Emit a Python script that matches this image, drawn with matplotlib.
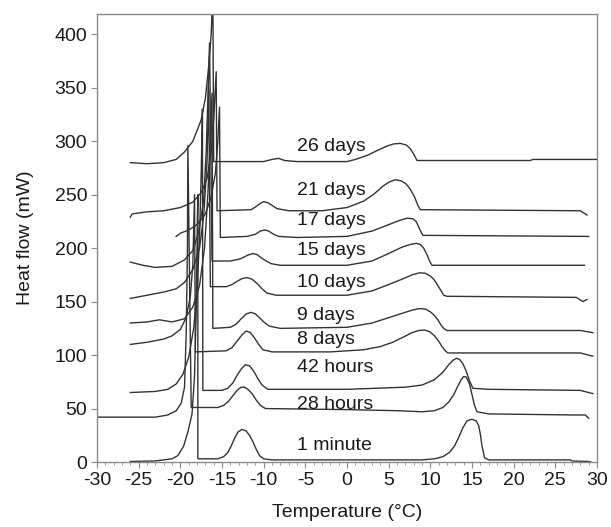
import matplotlib
matplotlib.use("Agg")
import matplotlib.pyplot as plt
from matplotlib.ticker import MultipleLocator

plt.rcParams["font.family"] = ["Liberation Sans", "DejaVu Sans"]
plt.rcParams["axes.unicode_minus"] = False

# keypoints: temperature (degC) and heat flow (mW)
t_1min = [-26, -23, -21, -20.3, -19.6, -19.1, -18.6, -18.3, -18.1, -17.95, -17.9,
          -17.9, -15.5, -14.8, -14.3, -13.9, -13.5, -13.1, -12.6, -12.1, -11.7, -11.3,
          -10.9, -10.5, -10, -9, 0, 9, 10.5, 11.5, 12.3, 12.9, 13.4, 13.9, 14.4, 15,
          15.5, 15.8, 16.0, 16.2, 16.5, 17, 26.8, 27, 29, 29.6]
q_1min = [0.5, 1, 3, 6, 15, 28, 45, 80, 140, 230, 250,
          3, 3, 5, 9, 15, 22, 28, 30.5, 29, 25, 19,
          12, 6, 3, 2, 2, 2, 3, 5, 9, 15, 23, 32, 38.5, 40,
          38.5, 34, 26, 15, 4, 2, 2, 1, 0.5, -1]

t_28h = [-30, -23, -21.5, -20.5, -19.9, -19.5, -19.3, -19.15, -19.1,
         -18.7, -15.5, -14.8, -14.2, -13.7, -13.2, -12.7, -12.3, -11.9, -11.4,
         -10.9, -10.4, -9.8, 0, 6, 9, 10.5, 11.5, 12.2, 12.8, 13.3, 13.7, 14.0,
         14.3, 14.7, 15.0, 15.3, 15.6, 17, 27, 28.6, 29]
q_28h = [42, 42, 44, 48, 55, 70, 120, 200, 296,
         51, 51, 53, 57, 62, 67, 70, 70, 68, 64,
         58, 53, 50, 49, 48, 47, 48, 51, 56, 63, 71, 77, 80,
         79.5, 73, 63, 53, 47, 45, 44, 44, 41]

t_42h = [-26, -23, -21.5, -20.5, -19.7, -19, -18.4, -18, -17.7, -17.5, -17.35,
         -17.3, -15, -14.3, -13.7, -13.2, -12.7, -12.2, -11.7, -11.2, -10.7,
         -10.2, -9.5, 0, 7, 9, 10.5, 11.5, 12.2, 12.7, 13.1, 13.5, 13.9, 14.3,
         14.7, 15.1, 17, 28, 29.5]
q_42h = [65, 66, 68, 73, 82, 98, 125, 160, 210, 270, 330,
         67, 67, 69, 74, 81, 87, 91, 90, 85, 78,
         72, 68, 68, 70, 72, 77, 84, 91, 95, 97, 96, 92, 85,
         76, 69, 68, 67, 64]

t_8d = [-26, -24, -22, -21, -20, -19.3, -18.8, -18.5, -18.3,
        -18.2, -14.5, -13.8, -13.2, -12.6, -12.1, -11.6, -11.1, -10.6, -10.1, -9,
        -2, 2, 4, 5.5, 6.8, 7.8, 8.6, 9.3, 9.9, 10.5, 11.0, 11.4, 11.8, 12.1, 28, 29.5]
q_8d = [110, 112, 115, 118, 124, 135, 155, 185, 250,
        103, 104, 107, 113, 119, 122.5, 121, 116, 110, 105, 103,
        103, 105, 108, 112, 117, 121, 123, 123.5, 122, 118, 113, 108, 104, 102, 102, 99]

t_9d = [-26, -24, -22.5, -21, -19.5, -18.5, -17.7, -17.1, -16.7, -16.4, -16.2,
        -16.1, -14, -13.3, -12.7, -12.1, -11.5, -11.0, -10.5, -10.0, -9.3, -8,
        0, 3, 5, 6.6, 7.8, 8.7, 9.4, 10.0, 10.5, 10.9, 11.3, 11.6, 12, 28, 29.5]
q_9d = [130, 131, 133, 131, 134, 145, 165, 200, 250, 300, 345,
        125, 126, 129, 134, 138.5, 140, 138.5, 135, 131, 127, 125,
        126, 130, 135, 139, 142, 143.5, 143, 140.5, 137, 133, 128, 125, 123, 123, 121]

t_10d = [-26, -24, -22, -20.5, -19.5, -18.5, -17.7, -17.2, -16.8, -16.6,
         -16.4, -14.5, -13.8, -13.2, -12.6, -12.0, -11.4, -10.8, -10.2, -9.6, -8.5,
         0, 3, 5, 6.6, 7.8, 8.7, 9.4, 10.0, 10.5, 10.9, 11.3, 11.6, 12, 27.5, 28.3, 28.8]
q_10d = [153, 156, 159, 162, 168, 180, 200, 230, 280, 350,
         164, 164, 166, 169, 171.5, 172.5, 171, 167, 162, 158, 156,
         156, 160, 166, 171, 175, 177, 176.5, 174, 170, 165, 160, 156, 155, 154, 150, 152]

t_15d = [-26, -24.5, -23, -21, -19.5, -18.5, -17.8, -17.2, -16.9, -16.7, -16.5,
         -16.2, -14, -12.8, -11.9, -11.3, -10.8, -10.3, -9.7, -9.1, -8,
         0, 3, 5, 6.6, 7.6, 8.3, 8.8, 9.2, 9.6, 9.9, 10.2, 28.5]
q_15d = [187, 184, 182, 183, 189, 198, 215, 245, 290, 340, 392,
         188, 188, 190, 193.5, 195, 194, 191, 188, 185.5, 184,
         184, 188, 195, 201, 203.5, 204.5, 203.5, 200, 194, 188, 184, 184]

t_17d = [-20.5, -20, -19, -18, -17, -16.3, -15.8, -15.5, -15.3,
         -15.2, -12, -11, -10.4, -9.9, -9.4, -8.8, -8.2, -6,
         0, 3, 5, 6.3, 7.2, 7.9, 8.3, 8.7, 9.1, 29]
q_17d = [211, 214, 217, 222, 232, 248, 270, 300, 332,
         210, 211, 213, 216, 217, 216, 213, 211, 210,
         211, 216, 222, 226, 228, 227.5, 225, 218, 212, 211]

t_21d = [-26, -25.8, -24, -22, -20, -18.5, -17.5, -16.8, -16.3, -16, -15.7,
         -15.6, -11.5, -10.9, -10.4, -10.0, -9.5, -9.0, -8.4, -7, -3,
         0, 2, 3.3, 4.3, 5.1, 5.8, 6.5, 7.1, 7.6, 8.1, 8.5, 8.8, 28, 28.8]
q_21d = [229, 232, 234, 235, 238, 243, 252, 265, 290, 320, 365,
         235, 236, 239, 242, 243.5, 242.5, 240, 237, 235, 235,
         238, 244, 251, 258, 262, 264, 263, 260, 255, 248, 240, 236, 235, 231]

t_26d = [-26, -24, -22, -20.5, -19.5, -18.5, -17.5, -17, -16.6, -16.3, -16.1,
         -16.0, -10, -9, -8.2, -7.5, -6,
         0, 1, 2.5, 3.8, 4.8, 5.6, 6.4, 7.1, 7.6, 8.0, 8.4, 22, 22.3, 30]
q_26d = [280, 279, 280, 283, 290, 300, 320, 340, 370, 400, 440,
         281, 281, 283, 284, 282, 281,
         281, 283, 287, 292, 295.5, 297.5, 298, 296.5, 293, 288, 282, 282, 283, 283]

curves = [(t_1min, q_1min), (t_28h, q_28h), (t_42h, q_42h), (t_8d, q_8d), (t_9d, q_9d),
          (t_10d, q_10d), (t_15d, q_15d), (t_17d, q_17d), (t_21d, q_21d), (t_26d, q_26d)]

labels = ["1 minute", "28 hours", "42 hours", "8 days", "9 days",
          "10 days", "15 days", "17 days", "21 days", "26 days"]
label_y = [15, 54, 88, 115, 137, 168, 198, 226, 254, 295]
LABEL_X = -6

GREY = "#8a8a8a"
INK = "#1a1a1a"
FS = 14

fig = plt.figure(figsize=(6.11, 5.27), dpi=100)
ax = fig.add_axes([0.1588, 0.1233, 0.8183, 0.8501])

for t, q in curves:
    ax.plot(t, q, color="#333333", lw=1.0)
for lab, y in zip(labels, label_y):
    ax.text(LABEL_X, y, lab, fontsize=FS, ha="left", va="center", color=INK)

ax.set_xlim(-30, 30)
ax.set_ylim(0, 419)
ax.xaxis.set_major_locator(MultipleLocator(5))
ax.xaxis.set_minor_locator(MultipleLocator(1))
ax.yaxis.set_major_locator(MultipleLocator(50))
for s in ax.spines.values():
    s.set_color(GREY)
    s.set_linewidth(1.0)
ax.tick_params(which="major", direction="out", length=4, pad=3, color=GREY, labelsize=FS,
               labelcolor=INK)
ax.tick_params(which="minor", direction="out", length=2, color=GREY)
ax.tick_params(axis="y", which="minor", left=False)
ax.set_xlabel("Temperature (\u00b0C)", fontsize=FS, color=INK, labelpad=11)
ax.set_ylabel("Heat flow (mW)", fontsize=FS, color=INK, labelpad=15)

fig.savefig("out.png", dpi=100)
